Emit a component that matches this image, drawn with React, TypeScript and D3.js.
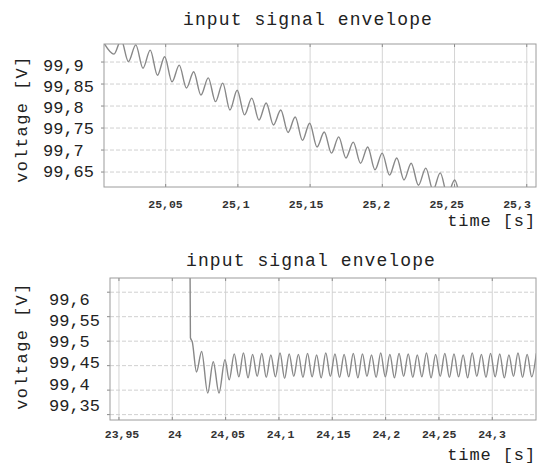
import React from 'react'
import * as d3 from 'd3'

const titleText = 'input signal envelope'
const yLabelText = 'voltage [V]'
const xLabelText = 'time [s]'

// upper panel: slow decline with 100 Hz ripple (extrema)
const upperTicksX = [25.05, 25.1, 25.15, 25.2, 25.25, 25.3]
const upperTicksY = [99.65, 99.7, 99.75, 99.8, 99.85, 99.9]
const upperTime = [
  25.0073, 25.0142, 25.0192, 25.0242, 25.0293, 25.0343, 25.0393, 25.0443, 25.0493, 25.0544,
  25.0594, 25.0644, 25.0694, 25.0744, 25.0795, 25.0845, 25.0895, 25.0945, 25.0995, 25.1046,
  25.1096, 25.1146, 25.1196, 25.1246, 25.1297, 25.1347, 25.1397, 25.1447, 25.1497, 25.1548,
  25.1598, 25.1648, 25.1698, 25.1748, 25.1799, 25.1849, 25.1899, 25.1949, 25.1999, 25.2050,
  25.2100, 25.2150, 25.2200, 25.2250, 25.2301, 25.2351, 25.2401, 25.2451, 25.2501, 25.2552,
  25.2602, 25.2652,
]
const upperVolt = [
  99.943, 99.918, 99.950, 99.901, 99.939, 99.886, 99.927, 99.870, 99.912, 99.855,
  99.893, 99.841, 99.878, 99.825, 99.864, 99.810, 99.852, 99.791, 99.836, 99.780,
  99.818, 99.768, 99.807, 99.757, 99.791, 99.740, 99.775, 99.722, 99.761, 99.707,
  99.741, 99.693, 99.730, 99.682, 99.718, 99.670, 99.707, 99.655, 99.693, 99.643,
  99.682, 99.632, 99.670, 99.620, 99.659, 99.609, 99.648, 99.598, 99.632, 99.584,
  99.614, 99.568,
]

// lower panel: step down, transient, then steady ripple
const lowerTicksX = [23.95, 24, 24.05, 24.1, 24.15, 24.2, 24.25, 24.3]
const lowerTicksY = [99.35, 99.4, 99.45, 99.5, 99.55, 99.6]
const lowerTime = [
  24.0165, 24.0170, 24.0187, 24.0227, 24.0275, 24.0332, 24.0384, 24.0438, 24.0494, 24.0534,
  24.0581, 24.0624, 24.0667, 24.0710, 24.0753, 24.0796, 24.0839, 24.0881, 24.0924, 24.0967,
  24.1010, 24.1053, 24.1096, 24.1139, 24.1182, 24.1225, 24.1268, 24.1311, 24.1353, 24.1396,
  24.1439, 24.1482, 24.1525, 24.1568, 24.1611, 24.1654, 24.1697, 24.1740, 24.1783, 24.1825,
  24.1868, 24.1911, 24.1954, 24.1997, 24.2040, 24.2083, 24.2126, 24.2169, 24.2212, 24.2255,
  24.2297, 24.2340, 24.2383, 24.2426, 24.2469, 24.2512, 24.2555, 24.2598, 24.2641, 24.2684,
  24.2727, 24.2769, 24.2812, 24.2855, 24.2898, 24.2941, 24.2984, 24.3027, 24.3070, 24.3113,
  24.3156, 24.3199, 24.3241, 24.3284, 24.3327, 24.3370, 24.3413,
]
const lowerVolt = [
  99.700, 99.507, 99.499, 99.437, 99.479, 99.394, 99.458, 99.394, 99.462, 99.421,
  99.474, 99.427, 99.476, 99.425, 99.473, 99.428, 99.475, 99.426, 99.472, 99.427,
  99.476, 99.424, 99.474, 99.428, 99.473, 99.426, 99.475, 99.427, 99.472, 99.425,
  99.476, 99.428, 99.474, 99.426, 99.473, 99.427, 99.475, 99.425, 99.474, 99.428,
  99.472, 99.426, 99.476, 99.427, 99.473, 99.425, 99.475, 99.428, 99.474, 99.426,
  99.472, 99.427, 99.476, 99.425, 99.473, 99.428, 99.475, 99.426, 99.474, 99.427,
  99.472, 99.425, 99.476, 99.428, 99.473, 99.426, 99.475, 99.427, 99.474, 99.425,
  99.472, 99.428, 99.476, 99.426, 99.473, 99.427, 99.475,
]

const fmt = (v: number) => String(+v.toFixed(2)).replace('.', ',')
const mono = '"Liberation Mono", "Courier New", monospace'

type PanelProps = {
  id: string
  box: { left: number, right: number, top: number, bottom: number }
  xDomain: [number, number]
  yDomain: [number, number]
  ticksX: number[]
  ticksY: number[]
  time: number[]
  volt: number[]
  xLabelRange: [number, number]  // label placement of first/last x tick
  yLabelRange: [number, number]  // baseline of first/last y tick label
  yTickX: number
  xTickBase: number
  titleY: number
  yTitleY: number
  xTitleY: number
}

function Panel(p: PanelProps) {
  const { box } = p
  const x = d3.scaleLinear().domain(p.xDomain).range([box.left, box.right])
  const y = d3.scaleLinear().domain(p.yDomain).range([box.bottom, box.top])
  const xLab = d3.scaleLinear()
    .domain([p.ticksX[0], p.ticksX[p.ticksX.length - 1]]).range(p.xLabelRange)
  const yLab = d3.scaleLinear()
    .domain([p.ticksY[0], p.ticksY[p.ticksY.length - 1]]).range(p.yLabelRange)

  const pts = d3.zip(p.time, p.volt) as [number, number][]
  const path = d3.line<[number, number]>()
    .x(d => x(d[0]))
    .y(d => y(d[1]))
    .curve(d3.curveMonotoneX)(pts)

  const cx = (box.left + box.right) / 2

  return (
    <g>
      <defs>
        <clipPath id={p.id}>
          <rect x={box.left} y={box.top} width={box.right - box.left} height={box.bottom - box.top} />
        </clipPath>
      </defs>
      <rect x={box.left} y={box.top} width={box.right - box.left} height={box.bottom - box.top} fill="#fff" />
      {p.ticksX.map(t => (
        <g key={'gx' + t}>
          <line x1={x(t)} x2={x(t)} y1={box.top} y2={box.bottom} stroke="#d4d4d4" strokeWidth={1} />
          <line x1={x(t)} x2={x(t)} y1={box.top} y2={box.top + 3} stroke="#8a8a8a" />
          <line x1={x(t)} x2={x(t)} y1={box.bottom - 3} y2={box.bottom} stroke="#8a8a8a" />
        </g>
      ))}
      {p.ticksY.map(t => (
        <g key={'gy' + t}>
          <line x1={box.left} x2={box.right} y1={y(t)} y2={y(t)} stroke="#d0d0d0" strokeWidth={1} strokeDasharray="4,2" />
          <line x1={box.left - 3} x2={box.left} y1={y(t)} y2={y(t)} stroke="#8a8a8a" />
        </g>
      ))}
      <path d={path || ''} fill="none" stroke="#888" strokeWidth={1.4} clipPath={`url(#${p.id})`} />
      <rect x={box.left} y={box.top} width={box.right - box.left} height={box.bottom - box.top}
        fill="none" stroke="#9c9c9c" strokeWidth={1} />

      {p.ticksX.map(t => (
        <text key={'lx' + t} x={xLab(t)} y={p.xTickBase} textAnchor="middle"
          fontFamily={mono} fontSize={11.5} fontWeight="bold" fill="#333">{fmt(t)}</text>
      ))}
      {p.ticksY.map(t => (
        <text key={'ly' + t} x={p.yTickX} y={yLab(t)} textAnchor="start"
          fontFamily={mono} fontSize={17} fill="#222">{fmt(t)}</text>
      ))}

      <text x={cx - 12} y={p.titleY} textAnchor="middle" fontFamily={mono} fontSize={18}
        letterSpacing={1.1} fill="#222">{titleText}</text>
      <text transform={`translate(27,${p.yTitleY}) rotate(-90)`} textAnchor="middle"
        fontFamily={mono} fontSize={17} letterSpacing={1.4} fill="#222">{yLabelText}</text>
      <text x={536} y={p.xTitleY} textAnchor="end" fontFamily={mono} fontSize={17}
        letterSpacing={0.9} fill="#222">{xLabelText}</text>
    </g>
  )
}

export default function App() {
  return (
    <svg width={537} height={472} style={{ position: 'absolute', left: 0, top: 0, background: '#fff' }}>
      <rect width={537} height={472} fill="#fff" />
      <Panel
        id="clipUpper"
        box={{ left: 104, right: 536, top: 44, bottom: 187 }}
        xDomain={[25.0073, 25.3064]}
        yDomain={[99.616, 99.941]}
        ticksX={upperTicksX}
        ticksY={upperTicksY}
        time={upperTime}
        volt={upperVolt}
        xLabelRange={[165.5, 517]}
        yLabelRange={[177, 70.7]}
        yTickX={43}
        xTickBase={208}
        titleY={25}
        yTitleY={119}
        xTitleY={226}
      />
      <Panel
        id="clipLower"
        box={{ left: 110, right: 536, top: 278, bottom: 420 }}
        xDomain={[23.9416, 24.341]}
        yDomain={[99.339, 99.629]}
        ticksX={lowerTicksX}
        ticksY={lowerTicksY}
        time={lowerTime}
        volt={lowerVolt}
        xLabelRange={[122, 492]}
        yLabelRange={[410.7, 305]}
        yTickX={49}
        xTickBase={438}
        titleY={266}
        yTitleY={346}
        xTitleY={460}
      />
    </svg>
  )
}
